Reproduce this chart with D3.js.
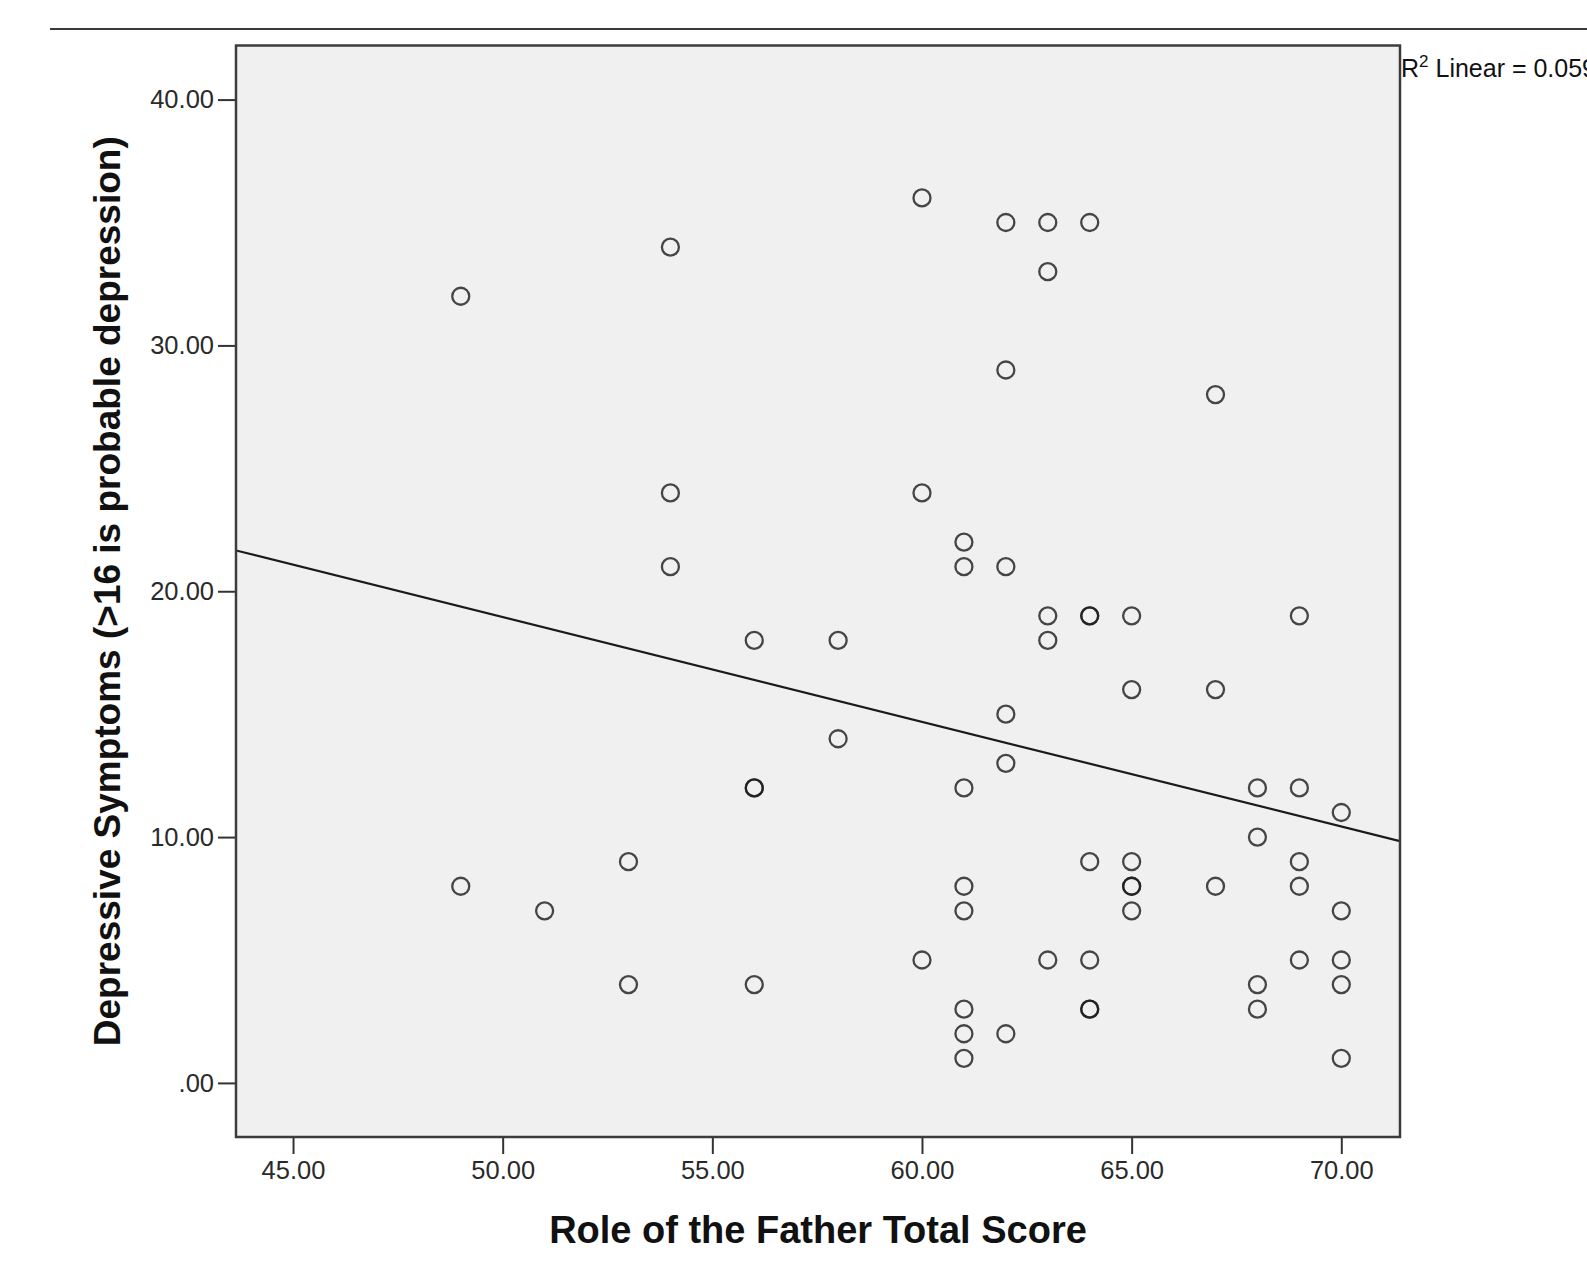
<!DOCTYPE html>
<html>
<head>
<meta charset="utf-8">
<script src="https://cdn.jsdelivr.net/npm/d3@7"></script>
<style>
  body { margin: 0; background: #fff; }
  svg { display: block; font-family: "Liberation Sans", Arial, sans-serif; }
</style>
</head>
<body>
<svg></svg>
<script>
var WIDTH = 1587;
var HEIGHT = 1267;

//scores, one entry per case (darker circles are two cases)
var fatherScore = [49, 54, 60, 62, 63, 64, 63, 62, 67, 54, 60, 54, 61, 61, 62, 63, 64, 64, 65, 69,
    63, 56, 58, 65, 67, 62, 58, 62, 56, 56, 61, 68, 69, 70, 68, 53, 64, 65, 69, 49,
    61, 65, 65, 67, 69, 51, 61, 65, 70, 60, 63, 64, 69, 70, 53, 56, 68, 70, 61, 64,
    64, 68, 61, 62, 61, 70];
var depSymptoms = [32, 34, 36, 35, 35, 35, 33, 29, 28, 24, 24, 21, 22, 21, 21, 19, 19, 19, 19, 19,
    18, 18, 18, 16, 16, 15, 14, 13, 12, 12, 12, 12, 12, 11, 10, 9, 9, 9, 9, 8,
    8, 8, 8, 8, 8, 7, 7, 7, 7, 5, 5, 5, 5, 5, 4, 4, 4, 4, 3, 3,
    3, 3, 2, 2, 1, 1];

//linear fit (intercept, slope)
var fitCoef = [40.25, -0.426];
var xTicks = [45, 50, 55, 60, 65, 70];
var yTicks = [0, 10, 20, 30, 40];

var svg = d3.select("svg")
    .attr("width", WIDTH)
    .attr("height", HEIGHT);

//plot box edges (window.top is taken, so own names)
var pLeft = 236, pRight = 1400, pTop = 45.5, pBottom = 1137;

var x = d3.scaleLinear().domain([43.64, 71.4]).range([pLeft, pRight]);
var y = d3.scaleLinear().domain([-2.2, 42.2]).range([pBottom, pTop]);

var fmt = function(d) { return d3.format(".2f")(d).replace(/^0\./, "."); };

//rule across the top
svg.append("line")
    .attr("x1", 50).attr("x2", WIDTH)
    .attr("y1", 29).attr("y2", 29)
    .attr("stroke", "#3a3a3a")
    .attr("stroke-width", 2);

//plot area
svg.append("rect")
    .attr("x", pLeft).attr("y", pTop)
    .attr("width", pRight - pLeft).attr("height", pBottom - pTop)
    .attr("fill", "#f0f0f0");

svg.append("defs").append("clipPath").attr("id", "plotclip")
    .append("rect")
    .attr("x", pLeft).attr("y", pTop)
    .attr("width", pRight - pLeft).attr("height", pBottom - pTop);

//axes
var xAxis = svg.append("g")
    .attr("transform", "translate(0," + pBottom + ")")
    .call(d3.axisBottom(x).tickValues(xTicks).tickFormat(fmt).tickSize(17).tickPadding(7));
var yAxis = svg.append("g")
    .attr("transform", "translate(" + pLeft + ",0)")
    .call(d3.axisLeft(y).tickValues(yTicks).tickFormat(fmt).tickSize(18).tickPadding(4));

[xAxis, yAxis].forEach(function(g) {
    g.select(".domain").remove();
    g.selectAll(".tick line").attr("stroke", "#333").attr("stroke-width", 2);
    g.selectAll(".tick text")
        .attr("fill", "#2a2a2a")
        .style("font-family", "'Liberation Sans', Arial, sans-serif")
        .style("font-size", "25.5px");
});

//points
svg.append("g")
    .attr("clip-path", "url(#plotclip)")
    .selectAll("circle")
    .data(fatherScore)
    .enter()
    .append("circle")
    .attr("cx", function(d) { return x(d); })
    .attr("cy", function(d, i) { return y(depSymptoms[i]); })
    .attr("r", 8.5)
    .attr("fill", "none")
    .attr("stroke", "#1a1a1a")
    .attr("stroke-opacity", 0.8)
    .attr("stroke-width", 2.3);

//fit line
var xd = x.domain();
svg.append("line")
    .attr("clip-path", "url(#plotclip)")
    .attr("x1", x(xd[0])).attr("y1", y(fitCoef[0] + fitCoef[1] * xd[0]))
    .attr("x2", x(xd[1])).attr("y2", y(fitCoef[0] + fitCoef[1] * xd[1]))
    .attr("stroke", "#1a1a1a")
    .attr("stroke-width", 2.2);

//frame on top
svg.append("rect")
    .attr("x", pLeft).attr("y", pTop)
    .attr("width", pRight - pLeft).attr("height", pBottom - pTop)
    .attr("fill", "none")
    .attr("stroke", "#3c3c3c")
    .attr("stroke-width", 2.5);

//r squared note, runs off the page like the original
var r2 = svg.append("text")
    .attr("x", pRight + 1)
    .attr("y", 77)
    .attr("fill", "#111")
    .style("font-size", "25px");
r2.append("tspan").text("R");
r2.append("tspan").attr("dy", -10).style("font-size", "17px").text("2");
r2.append("tspan").attr("dy", 10).text(" Linear = 0.059");

//axis titles
svg.append("text")
    .attr("x", (pLeft + pRight) / 2)
    .attr("y", 1243)
    .attr("text-anchor", "middle")
    .attr("fill", "#111")
    .style("font-weight", "bold")
    .style("font-size", "38px")
    .text("Role of the Father Total Score");

svg.append("text")
    .attr("transform", "translate(120," + ((pTop + pBottom) / 2) + ") rotate(-90)")
    .attr("text-anchor", "middle")
    .attr("fill", "#111")
    .style("font-weight", "bold")
    .style("font-size", "37px")
    .text("Depressive Symptoms (>16 is probable depression)");
</script>
</body>
</html>
